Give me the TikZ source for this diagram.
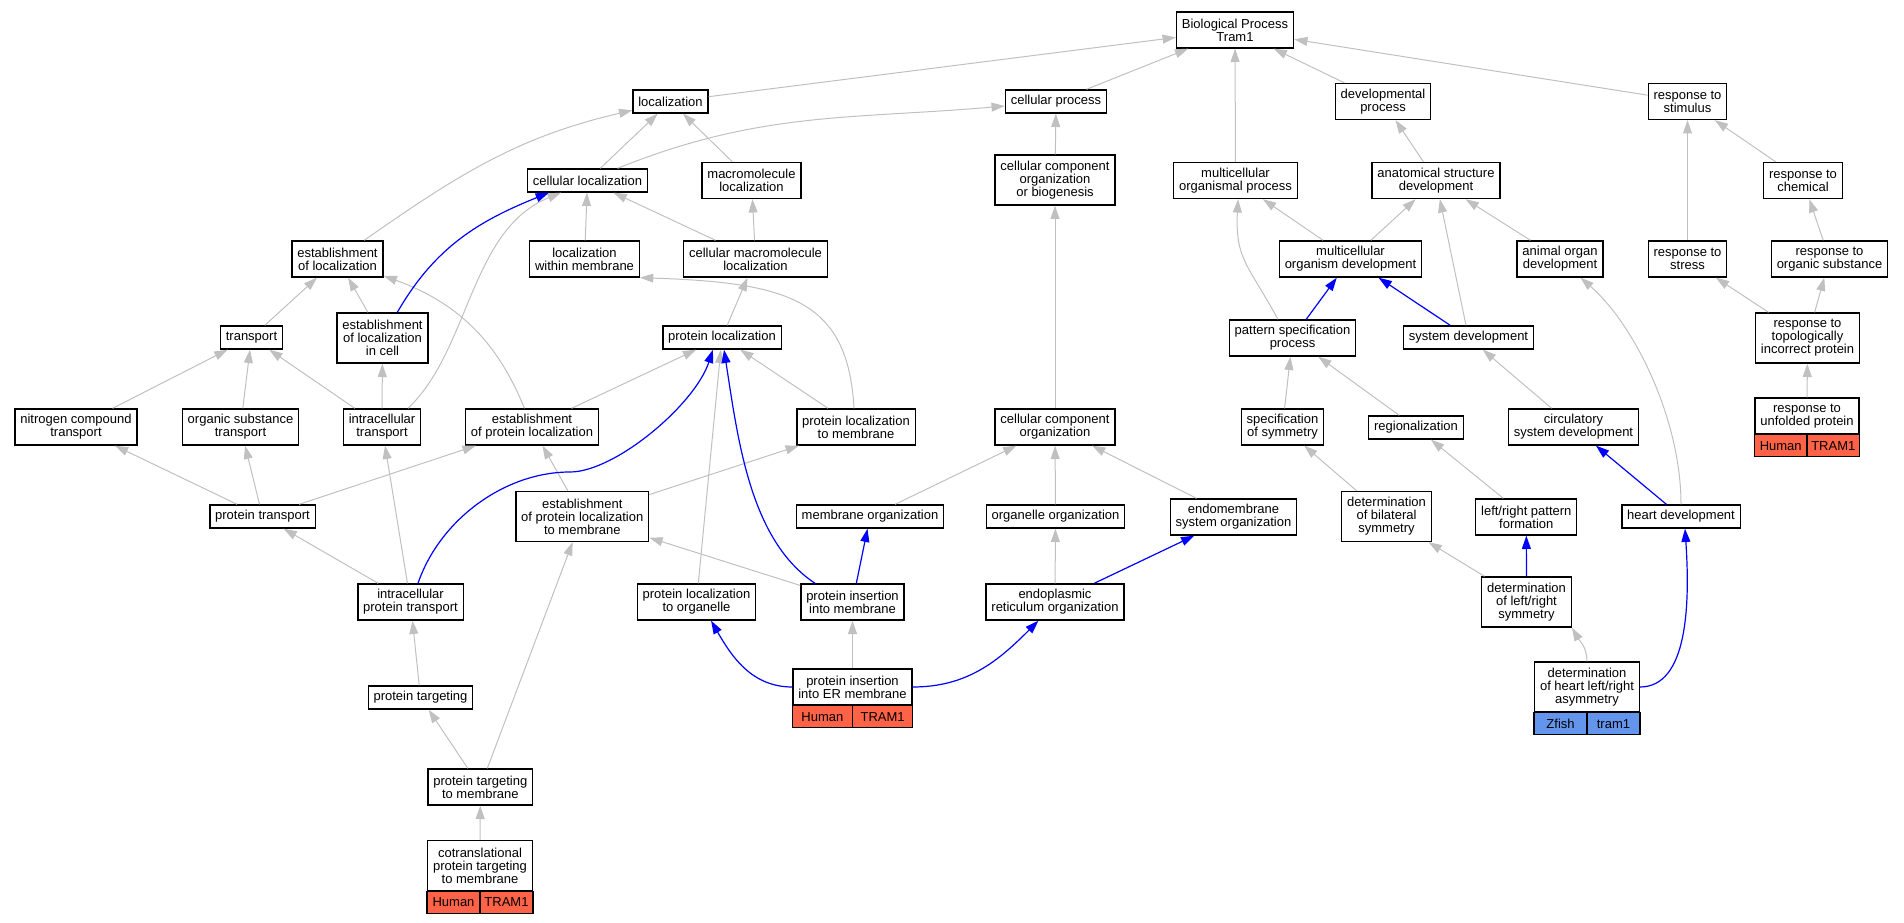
\documentclass[tikz,border=0pt]{standalone}
\usepackage{fontspec}
\setmainfont{Liberation Sans}
\usetikzlibrary{arrows.meta,calc}
\definecolor{isagray}{RGB}{192,192,192}
\definecolor{human}{RGB}{255,99,71}
\definecolor{zfish}{RGB}{100,149,237}
\tikzset{
  term/.style={draw=black, line width=1pt, fill=white, align=center, inner xsep=4pt, inner ysep=1pt, font=\fontsize{9.75}{9.75}\selectfont},
  oneline/.style={term, minimum height=17.25pt},
  twoline/.style={term, minimum height=27pt},
  threeline/.style={term, minimum height=37.5pt},
  isa/.style={draw=isagray, line width=0.75pt, -{Triangle[length=10pt,width=6.7pt]}},
  pathb/.style={draw=blue, line width=0.9pt, -{Triangle[length=10pt,width=6.7pt]}},
  cell/.style={font=\fontsize{9.75}{9.75}\selectfont}
}
% species and gene row under an annotated term
\newcommand\generow[4]{%
  \draw[draw=black, line width=1pt, fill=#4] (#1.south west) rectangle ([yshift=-16.5pt]#1.south);
  \draw[draw=black, line width=1pt, fill=#4] (#1.south) rectangle ([yshift=-16.5pt]#1.south east);
  \node[cell] (#1-sp) at ($(#1.south west)!.5!([yshift=-16.5pt]#1.south)$) {#2};
  \node[cell] (#1-gn) at ($(#1.south)!.5!([yshift=-16.5pt]#1.south east)$) {#3};
}
\begin{document}
\begin{tikzpicture}[x=0.75pt,y=-0.75pt]
\useasboundingbox (0,0) rectangle (1904,923);

% terms
\node[twoline] (bp) at (1235,30) {Biological Process\\Tram1};
\node[oneline] (loc) at (670.5,101.5) {localization};
\node[oneline] (cellproc) at (1056,101.5) {cellular process};
\node[twoline] (devproc) at (1383,101.5) {developmental\\process};
\node[twoline] (respstim) at (1687.5,101.5) {response to\\stimulus};
\node[oneline] (cellloc) at (587.5,180.5) {cellular localization};
\node[twoline] (macroloc) at (751.5,180.5) {macromolecule\\localization};
\node[threeline] (ccob) at (1055,180) {cellular component\\organization\\or biogenesis};
\node[twoline] (mop) at (1235.5,180.5) {multicellular\\organismal process};
\node[twoline] (asd) at (1436,180.5) {anatomical structure\\development};
\node[twoline] (respchem) at (1803,180.5) {response to\\chemical};
\node[twoline] (estloc) at (337.5,259) {establishment\\of localization};
\node[twoline] (locmem) at (584.5,259) {localization\\within membrane};
\node[twoline] (cmloc) at (755.5,259) {cellular macromolecule\\localization};
\node[twoline] (mod) at (1350.5,259) {multicellular\\organism development};
\node[twoline] (aod) at (1560,259) {animal organ\\development};
\node[twoline] (respstress) at (1687.5,259) {response to\\stress};
\node[twoline] (resporg) at (1829.5,259) {response to\\organic substance};
\node[oneline] (transport) at (251.5,337.5) {transport};
\node[threeline] (estloccell) at (382.5,338) {establishment\\of localization\\in cell};
\node[oneline] (protloc) at (722,337.5) {protein localization};
\node[twoline] (pspec) at (1292.5,338) {pattern specification\\process};
\node[oneline] (sysdev) at (1468.5,337.5) {system development};
\node[threeline] (resptip) at (1807.5,338) {response to\\topologically\\incorrect protein};
\node[twoline] (nct) at (76,427) {nitrogen compound\\transport};
\node[twoline] (ost) at (240.5,427) {organic substance\\transport};
\node[twoline] (ict) at (382,427) {intracellular\\transport};
\node[twoline] (estprotloc) at (532,427) {establishment\\of protein localization};
\node[twoline] (plmem) at (856,427) {protein localization\\to membrane};
\node[twoline] (cco) at (1055,427) {cellular component\\organization};
\node[twoline] (specsym) at (1282.5,427) {specification\\of symmetry};
\node[oneline] (region) at (1416,427.5) {regionalization};
\node[twoline] (circdev) at (1573.5,427) {circulatory\\system development};
\node[twoline] (rup) at (1807,416) {response to\\unfolded protein};
\node[oneline] (prottrans) at (262.5,516.5) {protein transport};
\node[threeline] (epltm) at (582.3,516.5) {establishment\\of protein localization\\to membrane};
\node[oneline] (memorg) at (870,516.5) {membrane organization};
\node[oneline] (orgorg) at (1055.5,516.5) {organelle organization};
\node[twoline] (endosys) at (1233.5,517) {endomembrane\\system organization};
\node[threeline] (detbil) at (1386.5,516.5) {determination\\of bilateral\\symmetry};
\node[twoline] (lrpat) at (1526.3,517) {left/right pattern\\formation};
\node[oneline] (heartdev) at (1681,516.5) {heart development};
\node[twoline] (ipt) at (410.5,602) {intracellular\\protein transport};
\node[twoline] (plorg) at (696.5,602) {protein localization\\to organelle};
\node[twoline] (pim) at (852.5,602) {protein insertion\\into membrane};
\node[twoline] (erorg) at (1055,602) {endoplasmic\\reticulum organization};
\node[threeline] (detlr) at (1526.5,602) {determination\\of left/right\\symmetry};
\node[twoline] (piem) at (852.5,687) {protein insertion\\into ER membrane};
\node[threeline] (dhlr) at (1587,687) {determination\\of heart left/right\\asymmetry};
\node[oneline] (ptarg) at (420.5,697.5) {protein targeting};
\node[twoline] (ptm) at (480.3,787) {protein targeting\\to membrane};
\node[threeline] (cotrans) at (480,865.5) {cotranslational\\protein targeting\\to membrane};

\generow{rup}{Human}{TRAM1}{human}
\generow{piem}{Human}{TRAM1}{human}
\generow{dhlr}{Zfish}{tram1}{zfish}
\generow{cotrans}{Human}{TRAM1}{human}

% is_a links
\foreach \c/\p in {loc/bp, cellproc/bp, mop/bp, devproc/bp, respstim/bp,
  cellloc/loc, macroloc/loc, ccob/cellproc, locmem/cellloc, cmloc/cellloc,
  cmloc/macroloc, transport/estloc, estloccell/estloc, nct/transport,
  ost/transport, ict/transport, ict/estloccell, protloc/cmloc,
  estprotloc/protloc, plmem/protloc, plorg/protloc, epltm/estprotloc,
  epltm/plmem, prottrans/nct, prottrans/ost, prottrans/estprotloc,
  ipt/prottrans, ipt/ict, ptarg/ipt, ptm/ptarg, ptm/epltm, cotrans/ptm,
  pim/epltm, memorg/cco, orgorg/cco, endosys/cco, cco/ccob, erorg/orgorg,
  piem/pim, mod/mop, mod/asd, sysdev/asd, aod/asd, asd/devproc,
  respstress/respstim, respchem/respstim, resporg/respchem,
  resptip/respstress, resptip/resporg, rup/resptip, specsym/pspec,
  region/pspec, circdev/sysdev, detbil/specsym, lrpat/region, detlr/detbil}
  \draw[isa] (\c) -- (\p);

\draw[isa] (estloc) to[out=35,in=193] (loc);
\draw[isa] (cellloc) to[out=22,in=185] (cellproc);
\draw[isa] ([xshift=19.5pt]ict.north) .. controls +(62,-59) and +(-91,37) .. ([xshift=-19.9pt]cellloc.south);
\draw[isa] (estprotloc) to[out=112,in=-20] (estloc);
\draw[isa] ([xshift=-1.5pt]plmem.north) .. controls +(-6,-109) and +(148,5) .. (locmem.south east);
\draw[isa] ([xshift=-10.9pt]pspec.north) .. controls +(-30,-55) and +(-3,60) .. ([xshift=1.9pt]mop.south);
\draw[isa] (heartdev.north) .. controls +(0,-85) and +(54,47) .. ([xshift=15.4pt]aod.south);
\draw[isa] (dhlr.north) to[out=90,in=-60] (detlr.south east);

% annotated paths
\coordinate (iptvia) at (570,472);
\foreach \c/\p in {pim/memorg, erorg/endosys, pspec/mod, sysdev/mod, heartdev/circdev, detlr/lrpat}
  \draw[pathb] (\c) -- (\p);
\draw[pathb] (estloccell) to[out=60,in=202] ([xshift=-28.9pt]cellloc.south);
\draw[pathb] ([xshift=5.6pt]ipt.north) .. controls +(22,-64) and +(-65,0) .. (iptvia) .. controls +(45,0) and +(-18,55) .. ([xshift=-6.8pt]protloc.south);
\draw[pathb] ([xshift=-28.1pt]pim.north) .. controls +(-65,-43) and +(14,90) .. ([xshift=1.5pt]protloc.south);
\draw[pathb] (piem.west) to[out=180,in=-60] ([xshift=10.9pt]plorg.south);
\draw[pathb] (piem.east) to[out=0,in=-135] ([xshift=-12.4pt]erorg.south);
\draw[pathb] (dhlr.east) .. controls +(48,0) and +(5,75) .. ([xshift=3pt]heartdev.south);
\end{tikzpicture}
\end{document}
